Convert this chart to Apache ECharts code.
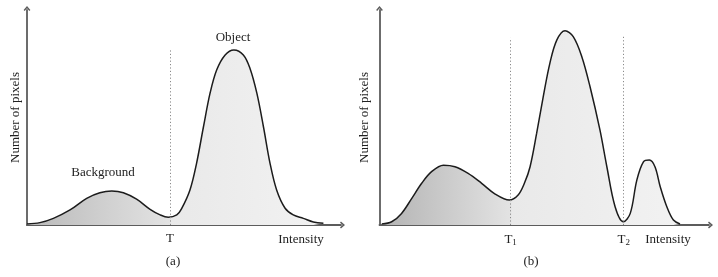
<!DOCTYPE html>
<html>
<head>
<meta charset="utf-8">
<script src="https://cdn.jsdelivr.net/npm/echarts@6/dist/echarts.min.js"></script>
<style>
html,body{margin:0;padding:0;background:#fff;}
#c{width:718px;height:277px;}
</style>
</head>
<body>
<div id="c"></div>
<script>
// Panel (a): intensity (0-100) vs number of pixels (0-100)
var curveA = [
  [0,0.5],[4.1,1.1],[8.4,3.1],[13.7,7.0],[19.0,12.4],[23.2,15.0],[27.0,15.8],[30.7,15.0],
  [34.9,12.0],[39.2,7.3],[42.4,4.7],[45.0,3.6],[47.7,4.7],[49.2,7.5],[51.9,16.3],[54.0,28.7],
  [56.2,45.7],[58.3,61.3],[60.4,72.1],[63.1,79.1],[65.9,81.4],[68.9,79.1],[71.0,72.9],
  [73.2,61.3],[75.3,45.7],[77.4,28.7],[79.5,16.3],[82.2,7.8],[84.8,4.7],[88.0,3.1],
  [91.2,1.4],[94.4,0.8]
];
// Panel (b)
var curveB = [
  [0.7,0.5],[3.7,1.5],[6.7,5.4],[9.8,12.4],[12.8,19.4],[15.8,24.8],[19.4,27.8],[22.9,27.1],
  [26.9,24.0],[31.0,19.4],[35.1,14.4],[39.4,11.6],[42.0,13.8],[44.0,19.5],[45.7,27.1],
  [47.7,42.7],[49.7,59.7],[51.7,75.2],[53.8,86.0],[56.3,90.4],[58.8,87.6],[61.4,78.3],
  [63.9,64.3],[66.9,44.2],[69.0,27.1],[71.5,8.5],[74.0,1.5],[76.1,5.4],[78.1,20.9],
  [80.1,29.4],[81.9,30.2],[83.6,27.1],[85.2,17.8],[87.2,8.5],[89.2,2.3],[91.2,0.5]
];
// thresholds: [x, top of dotted line, label]
var thresholdsA = [[45.5, 81.9, 'T']];
var thresholdsB = [[39.8, 87.0, 'T{s|1}'], [74.1, 88.4, 'T{s|2}']];
// annotations: [x, y, text]
var notesA = [[24.2, 24.2, 'Background'], [65.6, 87.4, 'Object']];
var notesB = [];
var xName = 'Intensity';
var yName = 'Number of pixels';
var captions = ['(a)', '(b)'];

var FONT = '"Liberation Serif", "DejaVu Serif", serif';
var TXT = '#222';
var FS = 13;

function axisLine() {
  return {
    show: true,
    symbol: ['none', 'path://M5,0 L10,6 L8.4,7.4 L5,3.4 L1.6,7.4 L0,6 Z'],
    symbolSize: [8, 5],
    symbolOffset: [0, 1.5],
    lineStyle: { color: '#5c5c5c', width: 1.8 }
  };
}
function xAxis(idx, gap) {
  return {
    type: 'value', gridIndex: idx, min: 0, max: 100,
    axisLine: axisLine(), axisTick: { show: false }, axisLabel: { show: false }, splitLine: { show: false },
    name: xName, nameLocation: 'end', nameGap: gap,
    nameTextStyle: { fontFamily: FONT, fontSize: FS, color: TXT, align: 'center', verticalAlign: 'top', padding: [8, 0, 0, 0] }
  };
}
function yAxis(idx, gap) {
  return {
    type: 'value', gridIndex: idx, min: 0, max: 100,
    axisLine: axisLine(), axisTick: { show: false }, axisLabel: { show: false }, splitLine: { show: false },
    name: yName, nameLocation: 'middle', nameRotate: 90, nameGap: gap,
    nameTextStyle: { fontFamily: FONT, fontSize: FS, color: TXT }
  };
}
function gradient(split, dark) {
  return new echarts.graphic.LinearGradient(0, 0, 1, 0, [
    { offset: 0, color: dark },
    { offset: split, color: '#e3e3e3' },
    { offset: split + 0.005, color: '#e9e9e9' },
    { offset: 1, color: '#f2f2f2' }
  ]);
}
function series(idx, data, thr, notes, split, dark) {
  return {
    type: 'line', xAxisIndex: idx, yAxisIndex: idx, data: data,
    smooth: 0.35, showSymbol: false, silent: true,
    lineStyle: { color: '#1c1c1c', width: 1.5 },
    areaStyle: { color: gradient(split, dark), opacity: 1 },
    markLine: {
      silent: true, symbol: ['none', 'none'], animation: false,
      lineStyle: { type: [1.2, 2.2], color: '#8a8a8a', width: 1 },
      label: {
        show: true, position: 'start', distance: 7, formatter: function (p) { return p.name; },
        fontFamily: FONT, fontSize: FS, color: TXT,
        rich: { s: { fontFamily: FONT, fontSize: 9, color: TXT, verticalAlign: 'bottom', padding: [6, 0, 0, 0] } }
      },
      data: thr.map(function (t) { return [{ coord: [t[0], 0], name: t[2] }, { coord: [t[0], t[1]] }]; })
    },
    markPoint: {
      silent: true, symbol: 'circle', symbolSize: 0, animation: false,
      label: { show: true, position: 'inside', formatter: function (p) { return p.name; }, fontFamily: FONT, fontSize: FS, color: TXT },
      data: notes.map(function (n) { return { coord: [n[0], n[1]], name: n[2] }; })
    }
  };
}

var chart = echarts.init(document.getElementById('c'), null, { renderer: 'canvas' });
chart.setOption({
  animation: false,
  backgroundColor: '#fff',
  grid: [
    { left: 27, top: 10, width: 314, height: 215 },
    { left: 379.5, top: 10, width: 329.5, height: 215 }
  ],
  xAxis: [xAxis(0, -40), xAxis(1, -41)],
  yAxis: [yAxis(0, 5), yAxis(1, 8)],
  series: [
    series(0, curveA, thresholdsA, notesA, 0.483, '#b9b9b9'),
    series(1, curveB, thresholdsB, notesB, 0.432, '#b3b3b3')
  ],
  graphic: [
    { type: 'text', x: 173, y: 262, style: { text: captions[0], textAlign: 'center', textVerticalAlign: 'middle', font: FS + 'px ' + FONT, fill: TXT } },
    { type: 'text', x: 531, y: 262, style: { text: captions[1], textAlign: 'center', textVerticalAlign: 'middle', font: FS + 'px ' + FONT, fill: TXT } }
  ]
});
</script>
</body>
</html>
